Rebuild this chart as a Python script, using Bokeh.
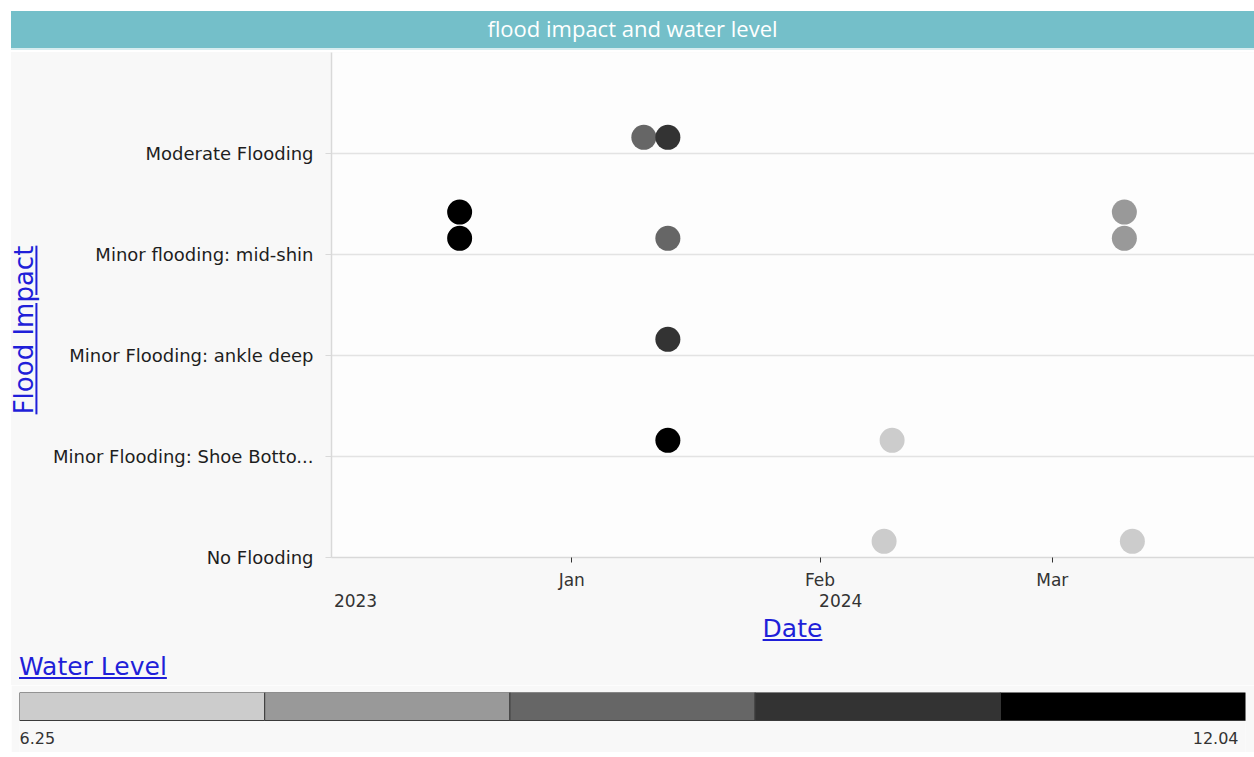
import numpy as np
import pandas as pd
from bokeh.plotting import figure
from bokeh.models import (ColumnDataSource, Range1d, FixedTicker, MonthsTicker,
                          DatetimeTickFormatter, DatetimeAxis, LinearColorMapper, Div, Label)
from bokeh.layouts import column, row
from bokeh.transform import transform
from bokeh.embed import file_html
from bokeh.resources import INLINE

# ---------------- data ----------------
chart_title = "flood impact and water level"
x_title = "Date"
y_title = "Flood Impact"
legend_title = "Water Level"

impact_categories = [
    "No Flooding",
    "Minor Flooding: Shoe Botto...",
    "Minor Flooding: ankle deep",
    "Minor flooding: mid-shin",
    "Moderate Flooding",
]

obs_dates = ["2023-12-18", "2023-12-18", "2024-01-10", "2024-01-13", "2024-01-13",
             "2024-01-13", "2024-01-13", "2024-02-10", "2024-02-09", "2024-03-10",
             "2024-03-10", "2024-03-11"]
obs_impact = ["Minor flooding: mid-shin", "Minor flooding: mid-shin", "Moderate Flooding",
              "Moderate Flooding", "Minor flooding: mid-shin", "Minor Flooding: ankle deep",
              "Minor Flooding: Shoe Botto...", "Minor Flooding: Shoe Botto...", "No Flooding",
              "Minor flooding: mid-shin", "Minor flooding: mid-shin", "No Flooding"]
obs_stack = [1, 0, 0, 0, 0, 0, 0, 0, 0, 1, 0, 0]
water_level = [12.04, 11.6, 9.1, 10.3, 9.0, 10.2, 11.3, 6.6, 6.25, 8.1, 7.8, 6.9]

level_palette = ["#cccccc", "#999999", "#666666", "#333333", "#000000"]
level_low = 6.25
level_high = 12.04
legend_tick_labels = [f"{level_low:.2f}", f"{level_high:.2f}"]

x_start = "2023-12-02"
x_end = "2024-03-26 06:00"
year_label_dates = ["2023-12-05", "2024-02-03 14:00"]

# ---------------- styles ----------------
BG = "#f8f8f8"
FONT = "DejaVu Sans"
LINK = "#1f1fd9"
TOTAL_W = 1243
YLAB_W = 38
MAIN_H = 563

dates = pd.to_datetime(obs_dates)
cat_idx = [impact_categories.index(c) for c in obs_impact]
y_pos = [i + 0.16 + 0.26 * s for i, s in zip(cat_idx, obs_stack)]
src = ColumnDataSource(dict(date=dates, y=y_pos, level=water_level, impact=obs_impact))

mapper = LinearColorMapper(palette=level_palette, low=level_low, high=level_high)

p = figure(width=TOTAL_W - YLAB_W, height=MAIN_H, x_axis_type="datetime",
           x_range=Range1d(pd.Timestamp(x_start), pd.Timestamp(x_end)),
           y_range=Range1d(0, len(impact_categories)),
           output_backend="svg", toolbar_location=None,
           min_border_left=282, min_border_right=0, min_border_top=0, min_border_bottom=58,
           background_fill_color="#fdfdfd", border_fill_color=BG, outline_line_color=None)

# x axis (months)
xa = p.xaxis[0]
xa.ticker = MonthsTicker(months=list(range(12)))
xa.formatter = DatetimeTickFormatter(months="%b", days="%b")
xa.axis_line_color = "#d9d9d9"
xa.axis_line_width = 1.5
xa.major_tick_line_color = "#333333"
xa.major_tick_out = 5
xa.major_tick_in = 0
xa.minor_tick_line_color = None
xa.major_label_text_font = FONT
xa.major_label_text_font_size = "17px"
xa.major_label_text_color = "#333333"
xa.major_label_standoff = 7

# year context axis
fmt_keys = ["microseconds", "milliseconds", "seconds", "minsec", "minutes",
            "hourmin", "hours", "days", "months", "years"]
year_axis = DatetimeAxis(
    ticker=FixedTicker(ticks=[pd.Timestamp(d).value / 1e6 for d in year_label_dates]),
    formatter=DatetimeTickFormatter(**{k: "%Y" for k in fmt_keys}),
)
year_axis.axis_line_color = None
year_axis.major_tick_line_color = None
year_axis.major_tick_out = 0
year_axis.major_tick_in = 0
year_axis.minor_tick_line_color = None
year_axis.major_label_text_font = FONT
year_axis.major_label_text_font_size = "17px"
year_axis.major_label_text_color = "#333333"
year_axis.major_label_standoff = 1
p.add_layout(year_axis, "below")

# y axis (categories)
yticker = FixedTicker(ticks=list(range(len(impact_categories))))
yax = p.yaxis[0]
yax.ticker = yticker
yax.major_label_overrides = {i: c for i, c in enumerate(impact_categories)}
yax.axis_line_color = "#d9d9d9"
yax.axis_line_width = 1.5
yax.major_tick_line_color = "#d9d9d9"
yax.major_tick_out = 6
yax.major_tick_in = 0
yax.minor_tick_line_color = None
yax.major_label_text_font = FONT
yax.major_label_text_font_size = "18px"
yax.major_label_text_color = "#1e1e1e"
yax.major_label_standoff = 12

p.xgrid.grid_line_color = None
p.ygrid.ticker = yticker
p.ygrid.grid_line_color = "#e3e3e3"
p.ygrid.grid_line_width = 1.5

p.scatter("date", "y", source=src, size=25,
          fill_color=transform("level", mapper), line_color=None)

# ---------------- HTML labels ----------------
title_div = Div(
    text=(f'<div style="width:{TOTAL_W}px;height:39px;line-height:35px;background:#74bfc9;'
          f'color:#ffffff;text-align:center;font-family:\'Open Sans\';font-size:22px;'
          f'border-bottom:2px solid #d6ecef;">{chart_title}</div>'),
    width=TOTAL_W, height=41, margin=0)

ylab_div = Div(
    text=(f'<div style="position:relative;width:{YLAB_W}px;height:{MAIN_H}px;background:{BG};">'
          f'<span style="position:absolute;left:14px;top:278px;transform:translate(-50%,-50%) rotate(-90deg);'
          f'white-space:nowrap;color:{LINK};text-decoration:underline;font-family:\'{FONT}\';'
          f'font-size:26px;">{y_title}</span></div>'),
    width=YLAB_W, height=MAIN_H, margin=0, styles={"background-color": BG})

date_div = Div(
    text=(f'<div style="width:{TOTAL_W}px;height:30px;background:{BG};">'
          f'<div style="margin-left:320px;width:923px;text-align:center;line-height:28px;">'
          f'<span style="color:{LINK};text-decoration:underline;font-family:\'{FONT}\';'
          f'font-size:25px;">{x_title}</span></div></div>'),
    width=TOTAL_W, height=30, margin=0)

water_div = Div(
    text=(f'<div style="width:{TOTAL_W}px;height:40px;background:{BG};">'
          f'<div style="padding-left:8px;padding-top:3px;line-height:38px;">'
          f'<span style="color:{LINK};text-decoration:underline;font-family:\'{FONT}\';'
          f'font-size:25px;">{legend_title}</span></div></div>'),
    width=TOTAL_W, height=40, margin=0)

# ---------------- legend bar ----------------
BAR_PX = 28
LF_H = 67
LF_TOP = 7
below_px = LF_H - LF_TOP - BAR_PX
lf = figure(width=TOTAL_W, height=LF_H, x_range=Range1d(level_low, level_high),
            y_range=Range1d(-below_px / BAR_PX, 1), output_backend="svg", toolbar_location=None,
            x_axis_location=None, y_axis_location=None,
            min_border_left=8, min_border_right=9, min_border_top=LF_TOP, min_border_bottom=0,
            border_fill_color=BG, background_fill_color=BG, outline_line_color=None)
lf.grid.visible = False
edges = np.linspace(level_low, level_high, len(level_palette) + 1)
lf.quad(left=edges[:-1], right=edges[1:], bottom=0, top=1,
        fill_color=level_palette, line_color="#3a3a3a", line_width=1)
lf.add_layout(Label(x=level_low, y=0, text=legend_tick_labels[0], text_align="left",
                    text_baseline="top", y_offset=-11, text_font=FONT,
                    text_font_size="16px", text_color="#333333"))
lf.add_layout(Label(x=level_high, y=0, text=legend_tick_labels[1], text_align="right",
                    text_baseline="top", y_offset=-11, x_offset=-7, text_font=FONT,
                    text_font_size="16px", text_color="#333333"))

layout = column(title_div,
                row(ylab_div, p, spacing=0, margin=0, styles={"background-color": BG}),
                date_div, water_div, lf,
                spacing=0, margin=(11, 0, 0, 11))

open("out.html", "w").write(file_html(layout, INLINE))
